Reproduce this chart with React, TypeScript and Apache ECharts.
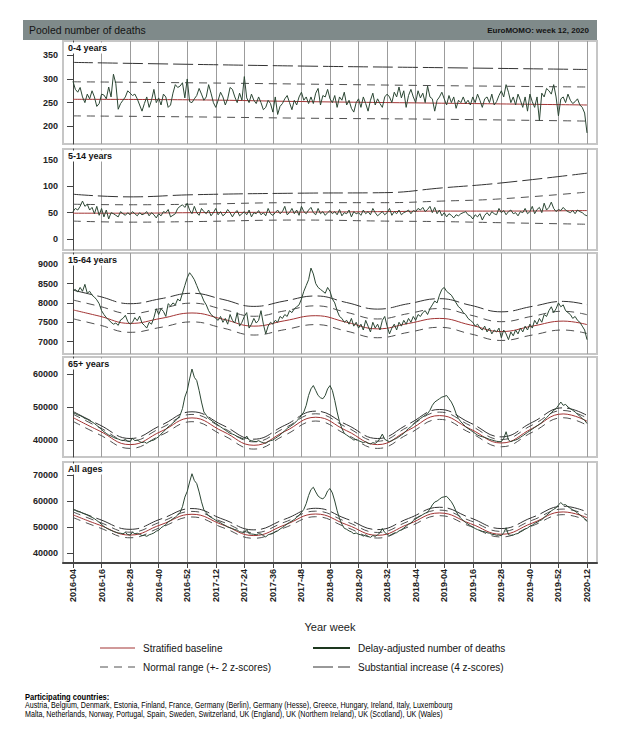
import React, { useEffect, useRef } from "react";
import * as echarts from "echarts";

// ---------- tick labels (x: ISO year-week, one label every 12 weeks) ----------
const tickLabels = [
  "2016-04", "2016-16", "2016-28", "2016-40", "2016-52", "2017-12", "2017-24",
  "2017-36", "2017-48", "2018-08", "2018-20", "2018-32", "2018-44", "2019-04",
  "2019-16", "2019-28", "2019-40", "2019-52", "2020-12",
];
const tickWeeks = tickLabels.map((_, i) => i * 12);

const panelNames = ["0-4 years", "5-14 years", "15-64 years", "65+ years", "All ages"];
const yTicks04 = [200, 250, 300, 350];
const yTicks514 = [0, 50, 100, 150];
const yTicks1564 = [7000, 7500, 8000, 8500, 9000];
const yTicks65 = [40000, 50000, 60000];
const yTicksAll = [40000, 50000, 60000, 70000];

// ---------- delay-adjusted number of deaths (weekly, 2016-04 .. 2020-12) ----------
const deaths04 = [
  295, 278, 272, 282, 262, 250, 268, 258, 275, 262, 242, 248,
  268, 266, 258, 283, 262, 310, 290, 236, 248, 255, 262, 275,
  270, 265, 268, 258, 245, 232, 248, 262, 240, 255, 278, 250,
  260, 245, 268, 262, 240, 245, 270, 288, 282, 285, 292, 260,
  300, 252, 250, 258, 265, 280, 268, 255, 262, 288, 270, 250,
  240, 255, 272, 262, 245, 258, 282, 278, 262, 250, 270, 255,
  305, 260, 250, 268, 255, 248, 262, 250, 235, 240, 255, 248,
  230, 262, 225, 242, 248, 258, 265, 250, 235, 255, 245, 262,
  272, 255, 262, 248, 262, 248, 270, 280, 245, 265, 262, 278,
  258, 250, 265, 240, 262, 255, 272, 245, 255, 238, 230, 250,
  258, 240, 262, 248, 232, 255, 270, 245, 258, 248, 240, 262,
  268, 262, 250, 272, 262, 283, 260, 275, 240, 265, 278, 262,
  250, 275, 260, 270, 250, 285, 262, 258, 232, 255, 262, 272,
  258, 245, 265, 250, 262, 238, 255, 250, 262, 248, 255, 245,
  262, 250, 268, 255, 240, 258, 262, 250, 268, 245, 252, 265,
  275, 262, 288, 272, 250, 262, 245, 268, 255, 240, 262, 232,
  268, 252, 240, 262, 212, 270, 262, 280, 275, 268, 288, 262,
  222, 258, 262, 250, 268, 255, 248, 252, 258, 245, 240, 228,
  186,
];
const deaths514 = [
  52, 58, 55, 62, 72, 62, 66, 55, 60, 48, 62, 45,
  58, 42, 55, 38, 50, 48, 45, 42, 52, 48, 45, 50,
  46, 52, 48, 44, 50, 46, 48, 52, 44, 50, 46, 40,
  48, 44, 52, 50, 56, 42, 45, 48, 58, 62, 65, 60,
  68, 55, 48, 62, 50, 45, 58, 52, 48, 55, 44, 50,
  58, 46, 52, 44, 48, 56, 50, 42, 50, 54, 44, 48,
  52, 46, 55, 42, 50, 48, 54, 46, 50, 44, 58, 48,
  45, 50, 55, 48, 52, 62, 46, 50, 58, 48, 55, 45,
  62, 52, 48, 55, 60, 50, 46, 58, 48, 52, 45, 50,
  54, 48, 52, 46, 56, 44, 50, 48, 55, 42, 52, 48,
  50, 45, 55, 48, 52, 46, 58, 50, 44, 48, 52, 46,
  50, 58, 45, 52, 48, 55, 46, 50, 52, 55, 48, 54,
  52, 58, 55, 60, 52, 56, 62, 50, 60, 48, 55, 44,
  50, 42, 48, 45, 40, 46, 44, 48, 50, 52, 46, 44,
  38, 46, 42, 48, 36, 45, 50, 44, 52, 48, 46, 58,
  50, 54, 46, 52, 55, 48, 50, 44, 52, 50, 58, 48,
  52, 62, 48, 56, 60, 50, 68, 55, 60, 70, 58, 52,
  56, 54, 60, 55, 52, 50, 54, 48, 55, 52, 50, 46,
  44,
];
const deaths1564 = [
  8320, 8350, 8280, 8400, 8300, 8480, 8250, 8300, 8200, 8150, 8080, 7980,
  7800, 7700, 7620, 7560, 7500, 7450, 7480, 7420, 7560, 7600, 7680, 7520,
  7450, 7500, 7620, 7540, 7660, 7480, 7420, 7350, 7500, 7450, 7620, 7850,
  7700, 7850, 7780, 7650, 7980, 7920, 8000, 7950, 8100, 8050, 8250, 8450,
  8650, 8780, 8700, 8600, 8450, 8300, 8200, 8050, 7950, 7800, 7700, 7650,
  7600, 7550, 7650, 7500, 7600, 7450, 7700, 7550, 7480, 7750, 7400, 7500,
  7650, 7750, 7350, 7450, 7600, 7480, 7550, 7800, 7450, 7200, 7400, 7500,
  7450, 7550, 7500, 7650, 7600, 7700, 7650, 7800, 7750, 7850, 7900, 7950,
  8100, 8300, 8450, 8600, 8900, 8750, 8500, 8400, 8350, 8300, 8250, 8400,
  8300, 8100, 8000, 7800, 7650, 7600, 7500, 7550, 7450, 7600, 7400, 7500,
  7350, 7450, 7300, 7550, 7400, 7250, 7500, 7350, 7450, 7300, 7550, 7650,
  7400, 7200, 7350, 7450, 7300, 7500, 7400, 7550, 7450, 7600, 7500, 7650,
  7550, 7700, 7650, 7750, 7800, 7700, 7850, 7950, 8050, 8000, 8200, 8350,
  8400, 8300, 8250, 8200, 8100, 8000, 7900, 7850, 7750, 7700, 7600, 7550,
  7500, 7400, 7450, 7350, 7300, 7400, 7250, 7350, 7200, 7300, 7250, 7350,
  7100, 7300, 7200, 7050, 7250, 7150, 7300, 7200, 7350, 7250, 7400, 7300,
  7450, 7350, 7550, 7450, 7600, 7500, 7700, 7650, 7800, 7900, 7750, 7850,
  8000, 7900, 7950, 7800, 7750, 7700, 7600, 7650, 7550, 7500, 7400, 7300,
  7050,
];
const deaths65 = [
  48300, 48000, 47600, 47400, 47000, 46500, 46300, 45800, 45500, 45000, 44400, 43800,
  43200, 42500, 42000, 41500, 41200, 40800, 40500, 40300, 40000, 39800, 40200, 39600,
  39500, 40500, 39800, 40000, 39500, 39200, 39400, 39000, 39500, 39800, 40000, 40500,
  41000, 41800, 42500, 43200, 44000, 44500, 45200, 45800, 46500, 47500, 49500, 53000,
  55000, 58500, 61500, 59000, 58000, 55000, 51500, 48500, 47500, 46500, 46000, 45500,
  45000, 44500, 44000, 43500, 43000, 42500, 42000, 41800, 41500, 41000, 40800, 40500,
  40200, 41200, 40000, 39800, 39600, 39500, 39800, 39400, 39200, 39000, 39500, 39800,
  40000, 40500, 41000, 41500, 42200, 42800, 43500, 44000, 44500, 45000, 45800, 46500,
  47500, 48500, 50500, 53500, 55500, 56500, 55000, 53500, 52800, 52500, 53500, 55500,
  56500, 55000, 52000, 48500, 45500, 43500, 42000, 41500, 41000, 40500, 40000, 40200,
  39800, 39500, 39200, 39500, 39000, 38800, 39200, 39000, 39500, 40500, 41800, 40200,
  39800, 39500, 39800, 40200, 40500, 41000, 41500, 42000, 42800, 43500, 44000, 44800,
  45500, 46000, 46500, 47000, 47500, 48000, 49000, 50500, 51500, 52000, 52500, 53000,
  53200, 53500, 52500, 51500, 50000, 48000, 46500, 45500, 44800, 44000, 43500, 43000,
  42500, 42000, 41500, 41200, 41000, 40800, 40500, 40200, 40000, 39800, 39600, 39500,
  39500, 40500, 42500, 40000, 39500, 39800, 40000, 40300, 40800, 41300, 41800, 42300,
  42800, 43300, 43800, 44300, 44800, 45300, 46000, 46800, 47500, 48300, 49000, 49500,
  50500, 51500, 50500, 50800, 50000, 49500, 49000, 48500, 47800, 47200, 46500, 46000,
  45000,
];
const deathsAll = [
  56700, 56400, 55900, 55800, 55300, 55000, 54600, 54100, 53700, 53200, 52500, 51800,
  51000, 50200, 49600, 49100, 48700, 48300, 48000, 47700, 47600, 47400, 47900, 47100,
  46900, 48000, 47400, 47600, 47200, 46700, 46800, 46400, 47000, 47300, 47700, 48400,
  48700, 49700, 50300, 50900, 52000, 52500, 53200, 53800, 54600, 55600, 57800, 61500,
  63700, 67300, 70500, 67900, 66700, 63500, 59700, 56600, 55500, 54300, 53700, 53200,
  52600, 52100, 51700, 51000, 50600, 50000, 49700, 49400, 49000, 48800, 48200, 48000,
  47900, 49000, 47400, 47300, 47200, 47000, 47400, 47300, 46700, 46200, 47000, 47300,
  47500, 48100, 48500, 49200, 49800, 50500, 51200, 51800, 52300, 52900, 53700, 54500,
  55600, 56800, 59000, 62100, 64400, 65300, 63500, 61900, 61200, 60800, 61800, 63900,
  64800, 63100, 60000, 56300, 53200, 51100, 49500, 49100, 48500, 48100, 47400, 47700,
  47200, 47000, 46500, 47000, 46400, 46000, 46700, 46400, 47000, 47800, 49400, 47900,
  47200, 46700, 47200, 47700, 47800, 48500, 48900, 49600, 50300, 51100, 51500, 52500,
  53100, 53700, 54200, 54800, 55300, 55700, 56900, 58500, 59600, 60000, 60700, 61400,
  61600, 61800, 60800, 59700, 58100, 56000, 54400, 53300, 52500, 51700, 51100, 50500,
  50000, 49400, 49000, 48600, 48300, 48200, 47800, 47600, 47200, 47100, 46800, 46900,
  46600, 47800, 49700, 47000, 46800, 46900, 47300, 47500, 48100, 48600, 49200, 49600,
  50300, 50700, 51400, 51800, 52400, 52800, 53700, 54500, 55300, 56200, 56800, 57400,
  58500, 59400, 58500, 58600, 57800, 57200, 56600, 56100, 55400, 54700, 53900, 53300,
  52100,
];

// ---------- baselines and thresholds (values read at a few week indices) ----------
const weeks04 = [0, 48, 100, 152, 216];
const base04 = [257, 256, 252, 249, 245];
const up2_04 = [294, 292, 289, 286, 283];
const lo2_04 = [222, 220, 217, 215, 211];
const up4_04 = [335, 331, 327, 324, 320];

const weeks514 = [0, 24, 50, 95, 131, 155, 179, 216];
const base514 = [49, 49, 50, 51, 52, 53, 53, 54];
const up2_514 = [66, 65, 66, 69, 69, 72, 76, 89];
const lo2_514 = [34, 32, 33, 36, 34, 33, 31, 28];
const up4_514 = [85, 80, 84, 87, 88, 97, 106, 125];

const weeksSeason = [0, 11, 24, 37, 50, 63, 76, 89, 102, 115, 128, 141, 154, 167, 180, 193, 206, 216];
const base1564 = [7820, 7660, 7470, 7600, 7740, 7580, 7400, 7540, 7670, 7500, 7330, 7470, 7600, 7430, 7260, 7400, 7530, 7440];
const up2_1564 = [8075, 7915, 7725, 7855, 7995, 7835, 7655, 7795, 7925, 7755, 7585, 7725, 7855, 7685, 7515, 7655, 7785, 7695];
const lo2_1564 = [7590, 7430, 7240, 7370, 7510, 7350, 7170, 7310, 7440, 7270, 7100, 7240, 7370, 7200, 7030, 7170, 7300, 7210];
const up4_1564 = [8330, 8170, 7980, 8110, 8250, 8090, 7910, 8050, 8180, 8010, 7840, 7980, 8110, 7940, 7770, 7910, 8040, 7950];

const base65 = [46800, 42800, 38600, 42600, 46700, 42600, 38400, 42600, 46900, 42800, 38600, 43000, 47400, 43300, 39100, 43500, 47900, 45700];
const up4_65 = [48650, 44650, 40450, 44450, 48550, 44450, 40250, 44450, 48750, 44650, 40450, 44850, 49250, 45150, 40950, 45350, 49750, 47450];
const up2_65 = [47850, 43850, 39650, 43650, 47750, 43650, 39450, 43650, 47950, 43850, 39650, 44050, 48450, 44350, 40150, 44550, 48950, 46650];
const lo2_65 = [45650, 41650, 37450, 41450, 45550, 41450, 37250, 41450, 45750, 41650, 37450, 41850, 46250, 42150, 37950, 42350, 46750, 44450];

const baseAll = [54700, 50800, 46900, 50900, 54900, 50800, 46700, 50800, 55000, 50900, 46800, 51100, 55400, 51300, 47200, 51500, 55800, 53600];
const up4_all = [56900, 53000, 49100, 53100, 57100, 53000, 48900, 53000, 57200, 53100, 49000, 53300, 57600, 53500, 49400, 53700, 58000, 55800];
const up2_all = [55800, 51900, 48000, 52000, 56000, 51900, 47800, 51900, 56100, 52000, 47900, 52200, 56500, 52400, 48300, 52600, 56900, 54700];
const lo2_all = [53650, 49750, 45850, 49850, 53850, 49750, 45650, 49750, 53950, 49850, 45750, 50050, 54350, 50250, 46150, 50450, 54750, 52550];

const countries1 =
  "Austria, Belgium, Denmark, Estonia, Finland, France, Germany (Berlin), Germany (Hesse), Greece, Hungary, Ireland, Italy, Luxembourg";
const countries2 =
  "Malta, Netherlands, Norway, Portugal, Spain, Sweden, Switzerland, UK (England), UK (Northern Ireland), UK (Scotland), UK (Wales)";

// ---------- styling ----------
const FONT = '"Liberation Sans", Arial, sans-serif';
const C_BASE = "#a23434";
const C_DEATH = "#2c4734";
const C_NORM = "#505050";
const C_SUBST = "#333333";
const DASH_NORM = [8, 6];
const DASH_SUBST = [20, 5];

type Panel = {
  name: string;
  top: number;
  bottom: number;
  min: number;
  max: number;
  ticks: number[];
  deaths: number[];
  kw: number[];
  up4: number[];
  up2: number[];
  lo2: number[];
  base: number[];
};

const panels: Panel[] = [
  { name: panelNames[0], top: 41, bottom: 144, min: 162.6, max: 380.2, ticks: yTicks04, deaths: deaths04,
    kw: weeks04, up4: up4_04, up2: up2_04, lo2: lo2_04, base: base04 },
  { name: panelNames[1], top: 149, bottom: 250, min: -20.9, max: 170.9, ticks: yTicks514, deaths: deaths514,
    kw: weeks514, up4: up4_514, up2: up2_514, lo2: lo2_514, base: base514 },
  { name: panelNames[2], top: 253, bottom: 354, min: 6680, max: 9290, ticks: yTicks1564, deaths: deaths1564,
    kw: weeksSeason, up4: up4_1564, up2: up2_1564, lo2: lo2_1564, base: base1564 },
  { name: panelNames[3], top: 357, bottom: 457, min: 34850, max: 65150, ticks: yTicks65, deaths: deaths65,
    kw: weeksSeason, up4: up4_65, up2: up2_65, lo2: lo2_65, base: base65 },
  { name: panelNames[4], top: 462, bottom: 563, min: 36140, max: 75020, ticks: yTicksAll, deaths: deathsAll,
    kw: weeksSeason, up4: up4_all, up2: up2_all, lo2: lo2_all, base: baseAll },
];

const GRID_LEFT = 63;
const GRID_RIGHT = 23;

function buildOption() {
  const grids: any[] = [];
  const xAxes: any[] = [];
  const yAxes: any[] = [];
  const series: any[] = [];
  const last = panels.length - 1;

  panels.forEach((p, gi) => {
    grids.push({
      left: GRID_LEFT,
      right: GRID_RIGHT,
      top: p.top,
      height: p.bottom - p.top,
      show: true,
      borderColor: "#c6c6c6",
      borderWidth: 2,
      backgroundColor: "transparent",
    });
    const isLast = gi === last;
    xAxes.push({
      type: "value",
      gridIndex: gi,
      min: -4.2,
      max: 220.2,
      axisLine: { show: isLast, onZero: false, lineStyle: { color: "#444", width: 2 } },
      axisTick: { show: isLast, length: 5, lineStyle: { color: "#444" }, customValues: tickWeeks },
      axisLabel: {
        show: isLast,
        customValues: tickWeeks,
        rotate: 90,
        margin: 6,
        fontFamily: FONT,
        fontSize: 9,
        fontWeight: "bold",
        color: "#222",
        formatter: (v: number) => tickLabels[Math.round(v / 12)] ?? "",
      },
      splitLine: { show: true, lineStyle: { color: "#9c9c9c", width: 1 } },
      name: isLast ? "Year week" : "",
      nameLocation: "middle",
      nameGap: 58,
      nameTextStyle: { fontFamily: FONT, fontSize: 11, color: "#222" },
    });
    yAxes.push({
      type: "value",
      gridIndex: gi,
      min: p.min,
      max: p.max,
      axisLine: { show: true, lineStyle: { color: "#444", width: 1 } },
      axisTick: { show: true, length: 6, lineStyle: { color: "#444" }, customValues: p.ticks },
      axisLabel: {
        show: true,
        customValues: p.ticks,
        margin: 5,
        fontFamily: FONT,
        fontSize: 9,
        fontWeight: "bold",
        color: "#222",
        formatter: (v: number) => String(Math.round(v)),
      },
      splitLine: { show: false },
    });

    const mk = (xs: number[], ys: number[], color: string, width: number, type: any, smooth: number, z: number) => ({
      type: "line",
      xAxisIndex: gi,
      yAxisIndex: gi,
      data: xs.map((x, i) => [x, ys[i]]),
      showSymbol: false,
      symbol: "none",
      smooth,
      silent: true,
      z,
      lineStyle: { color, width, type },
    });
    series.push(mk(p.kw, p.up4, C_SUBST, 1, DASH_SUBST, 0.45, 2));
    series.push(mk(p.kw, p.up2, C_NORM, 1, DASH_NORM, 0.45, 2));
    series.push(mk(p.kw, p.lo2, C_NORM, 1, DASH_NORM, 0.45, 2));
    series.push(mk(p.kw, p.base, C_BASE, 1, "solid", 0.45, 3));
    series.push(mk(p.deaths.map((_, i) => i), p.deaths, C_DEATH, 1, "solid", 0, 4));
  });

  const graphic: any[] = [
    { type: "rect", shape: { x: 23, y: 20, width: 574, height: 20 }, style: { fill: "#7f8a8a" }, silent: true },
    { type: "text", x: 29, y: 30, scaleX: 0.95, style: { text: "Pooled number of deaths", fill: "#141414", font: `11px ${FONT}`, verticalAlign: "middle" }, silent: true },
    { type: "text", x: 589, y: 30, style: { text: "EuroMOMO: week 12, 2020", fill: "#141414", font: `bold 8px ${FONT}`, align: "right", verticalAlign: "middle" }, silent: true },
  ];
  panels.forEach((p) => {
    graphic.push({
      type: "text",
      x: 66,
      y: p.top + 7,
      z: 100,
      style: {
        text: p.name,
        fill: "#141414",
        font: `bold 9px ${FONT}`,
        verticalAlign: "middle",
        backgroundColor: "#ffffff",
        padding: [1, 2, 1, 2],
      },
      silent: true,
    });
  });

  // legend
  const legendRows = [648, 667];
  graphic.push(
    { type: "line", shape: { x1: 100, y1: legendRows[0], x2: 135, y2: legendRows[0] }, style: { stroke: C_BASE, lineWidth: 1 } },
    { type: "text", x: 143, y: legendRows[0], style: { text: "Stratified baseline", fill: "#141414", font: `10px ${FONT}`, verticalAlign: "middle" } },
    { type: "line", shape: { x1: 313, y1: legendRows[0], x2: 350, y2: legendRows[0] }, style: { stroke: "#1d381f", lineWidth: 2 } },
    { type: "text", x: 358, y: legendRows[0], style: { text: "Delay-adjusted number of deaths", fill: "#141414", font: `10px ${FONT}`, verticalAlign: "middle" } },
    { type: "line", shape: { x1: 100, y1: legendRows[1], x2: 135, y2: legendRows[1] }, style: { stroke: C_NORM, lineWidth: 1, lineDash: DASH_NORM } },
    { type: "text", x: 143, y: legendRows[1], style: { text: "Normal range (+- 2 z-scores)", fill: "#141414", font: `10px ${FONT}`, verticalAlign: "middle" } },
    { type: "line", shape: { x1: 313, y1: legendRows[1], x2: 350, y2: legendRows[1] }, style: { stroke: C_SUBST, lineWidth: 1, lineDash: DASH_SUBST } },
    { type: "text", x: 358, y: legendRows[1], style: { text: "Substantial increase (4 z-scores)", fill: "#141414", font: `10px ${FONT}`, verticalAlign: "middle" } },
  );

  // footer (condensed, as in the original narrow face)
  const FOOT_SCALE = 0.84;
  graphic.push(
    { type: "text", x: 25, y: 697, scaleX: FOOT_SCALE, style: { text: "Participating countries:", fill: "#000", font: `bold 9px ${FONT}`, verticalAlign: "middle" } },
    { type: "text", x: 25, y: 705.5, scaleX: FOOT_SCALE, style: { text: countries1, fill: "#000", font: `8.5px ${FONT}`, verticalAlign: "middle" } },
    { type: "text", x: 25, y: 714, scaleX: FOOT_SCALE, style: { text: countries2, fill: "#000", font: `8.5px ${FONT}`, verticalAlign: "middle" } },
  );

  return {
    animation: false,
    backgroundColor: "#ffffff",
    textStyle: { fontFamily: FONT },
    grid: grids,
    xAxis: xAxes,
    yAxis: yAxes,
    series,
    graphic,
  };
}

export default function App() {
  const ref = useRef<HTMLDivElement>(null);
  useEffect(() => {
    if (!ref.current) return;
    const chart = echarts.init(ref.current, undefined, { renderer: "svg" });
    chart.setOption(buildOption() as any);
    return () => chart.dispose();
  }, []);
  return (
    <div
      ref={ref}
      style={{ position: "absolute", left: 0, top: 0, width: 620, height: 744, background: "#fff" }}
    />
  );
}
